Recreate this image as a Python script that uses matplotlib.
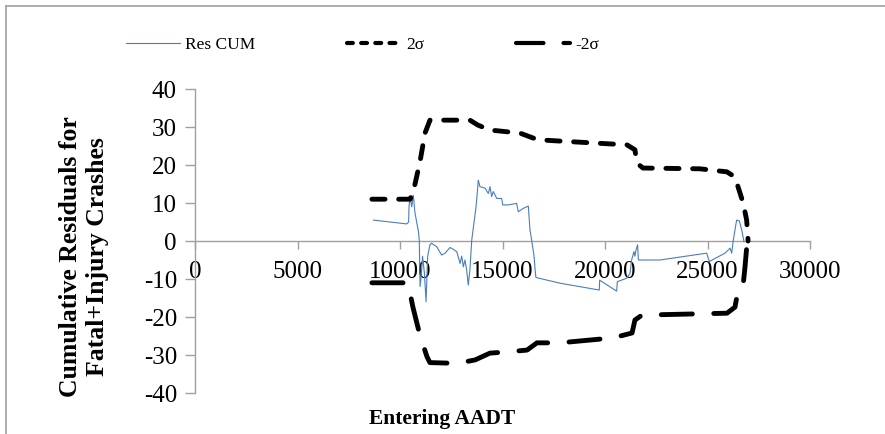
import matplotlib
matplotlib.use('Agg')
import matplotlib.pyplot as plt
from matplotlib.lines import Line2D

plt.rcParams['font.family'] = ['Liberation Serif', 'DejaVu Serif']

# cumulative residuals vs entering AADT
aadt_res = [8700, 10330, 10420, 10440, 10490, 10570, 10650, 10730, 10900, 10940,
            10980, 11060, 11100, 11190, 11270, 11350, 11460, 11540, 11790, 12030,
            12200, 12440, 12600, 12770, 12930, 13010, 13090, 13170, 13250, 13330,
            13410, 13500, 13710, 13820, 13900, 14150, 14310, 14390, 14470, 14550,
            14720, 14960, 15010, 15280, 15690, 15770, 16020, 16260, 16340, 16420,
            16540, 16590, 16630, 17800, 19720, 19740, 20570, 20600, 21060, 21220,
            21300, 21410, 21460, 21510, 21590, 21630, 22680, 24960, 25090, 25850,
            26100, 26180, 26260, 26420, 26550, 26670, 26780]
res_cum = [5.5, 4.5, 5.0, 9.0, 11.7, 9.0, 12.0, 7.4, 2.5, 0.3,
           -12.0, -7.6, -4.0, -8.4, -16.0, -4.0, -1.0, -0.6, -1.5, -3.7,
           -3.2, -1.7, -2.2, -2.8, -5.9, -4.0, -6.8, -5.0, -7.6, -11.6,
           -7.6, 0.3, 9.0, 16.0, 14.3, 13.9, 12.5, 14.3, 11.7, 13.0,
           11.2, 11.2, 9.5, 9.5, 9.9, 7.7, 8.6, 9.2, 2.9, 0.3,
           -4.0, -7.6, -9.6, -11.1, -12.9, -10.3, -13.2, -10.7, -9.8, -8.5,
           -5.0, -2.8, -4.0, -2.4, -1.0, -5.0, -5.0, -3.2, -5.4, -3.2,
           -1.9, -3.2, 0.3, 5.5, 5.3, 2.9, -0.2]

# +2 sigma limit
aadt_up = [8630, 10490, 10650, 10980, 11220, 11460, 13410, 13800, 14390, 15850,
           16490, 16830, 18780, 21070, 21460, 21560, 21850, 24630, 25950, 26340,
           26740, 26910, 26980]
sigma_up = [11, 11, 13, 21, 28.4, 31.8, 31.8, 30.5, 29.2, 28.4,
            27.1, 26.6, 26.0, 25.3, 24.0, 20.5, 19.2, 19.0, 18.2, 16.8,
            10.0, 5.5, 0.0]

# -2 sigma limit
aadt_lo = [8630, 10390, 10630, 10980, 11320, 11460, 12780, 13660, 14390, 15220,
           16200, 16680, 17800, 20390, 21320, 21460, 21800, 25950, 26340, 26490,
           26730, 26830, 26930]
sigma_lo = [-11, -11, -17.4, -25, -30.5, -32, -32.2, -31.3, -29.5, -29.2,
            -28.7, -26.8, -26.8, -25.5, -24.2, -20.8, -19.5, -19.0, -17.4, -13.0,
            -12.0, -6.8, -0.5]

yticks = [-40, -30, -20, -10, 0, 10, 20, 30, 40]
xticks = [0, 5000, 10000, 15000, 20000, 25000, 30000]

blue = '#4a7ebb'
grey = '#a0a0a0'

fig = plt.figure(figsize=(8.85, 4.34), dpi=100)
ax = fig.add_axes([195 / 885, 1 - 393 / 434, 615 / 885, 304 / 434])

ax.plot(aadt_res, res_cum, color=blue, lw=0.8, zorder=3)
ax.plot(aadt_up, sigma_up, color='black', lw=3.5, linestyle=(0, (2.7, 2.8)),
        dash_capstyle='round', solid_capstyle='round', zorder=4)
ax.plot(aadt_lo, sigma_lo, color='black', lw=3.5, linestyle=(0, (6.4, 4.4)),
        dash_capstyle='round', solid_capstyle='round', zorder=4)

ax.set_xlim(0, 30000)
ax.set_ylim(-40, 40)
ax.set_xticks(xticks)
ax.set_yticks(yticks)
ax.set_xticklabels([str(v) for v in xticks])
ax.set_yticklabels([str(v) for v in yticks])

ax.spines['top'].set_visible(False)
ax.spines['right'].set_visible(False)
ax.spines['bottom'].set_position(('data', 0))
for s in ['bottom', 'left']:
    ax.spines[s].set_color(grey)
    ax.spines[s].set_linewidth(1.0)
ax.tick_params(axis='x', direction='out', length=5.5, width=1, color=grey,
               pad=9, labelsize=18)
ax.tick_params(axis='y', direction='out', length=7, width=1, color=grey,
               pad=6, labelsize=18)
ax.patch.set_alpha(0)

# legend with Excel-like handles
h_res = Line2D([], [], color=blue, lw=0.8)
h_up = Line2D([], [], color='black', lw=3, linestyle=(0, (1.4, 2.0)),
              dash_capstyle='round')
h_lo = Line2D([], [], color='black', lw=3, linestyle=(0, (6.6, 4.8)),
              dash_capstyle='round')
fig.legend([h_res, h_up, h_lo], ['Res CUM', '2σ', '-2σ'], ncol=3,
           loc='center left', bbox_to_anchor=(126 / 885, 1 - 45 / 434),
           frameon=False, fontsize=12.5, handlelength=3.1, handletextpad=0.3,
           columnspacing=5.3, borderpad=0, borderaxespad=0)

fig.text(442 / 885, 1 - 424 / 434, 'Entering AADT', ha='center', va='baseline',
         fontsize=15.5, fontweight='bold')
fig.text(84 / 885, 1 - 257 / 434, 'Cumulative Residuals for\nFatal+Injury Crashes',
         ha='center', va='center', rotation=90, fontsize=18.5, fontweight='bold',
         multialignment='center', linespacing=1.2)

# chart area border (top and left edges)
fig.add_artist(Line2D([6 / 885, 1], [1 - 6 / 434, 1 - 6 / 434],
                      transform=fig.transFigure, color=grey, lw=1.2))
fig.add_artist(Line2D([6 / 885, 6 / 885], [0, 1 - 6 / 434],
                      transform=fig.transFigure, color=grey, lw=1.2))

fig.savefig('out.png', dpi=100)
